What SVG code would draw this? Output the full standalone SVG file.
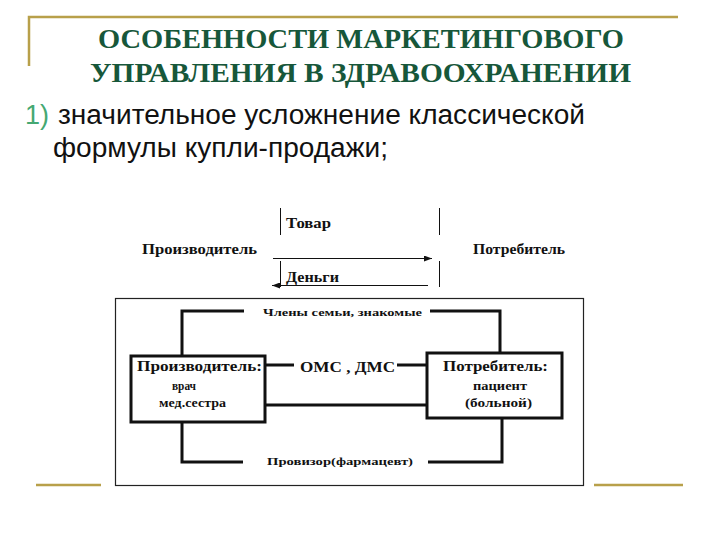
<svg xmlns="http://www.w3.org/2000/svg" width="720" height="540" viewBox="0 0 720 540">
<style>
.gold{stroke:#b8a04a;stroke-width:2.5;fill:none}
.title{font-family:"Liberation Serif",serif;font-weight:bold;font-size:27px;fill:#17573a;text-anchor:middle}
.body{font-family:"Liberation Sans",Arial,sans-serif;font-size:27px;fill:#111}
.lbl{font-family:"Liberation Serif",serif;font-weight:bold;fill:#111}
.thin{stroke:#111;stroke-width:1;fill:none}
.thick{stroke:#111;stroke-width:3;fill:none}
.box{stroke:#111;stroke-width:3;fill:#fff}
</style>
<defs>
<marker id="ah" markerWidth="8" markerHeight="6" refX="8" refY="3" orient="auto" markerUnits="userSpaceOnUse">
<path d="M0,0 L8,3 L0,6 Z" fill="#111"/>
</marker>
</defs>
<rect width="720" height="540" fill="#fff"/>
<g id="frame-deco">
<polyline class="gold" points="29,66 29,17 678,17"/>
<line class="gold" x1="36" y1="485" x2="101" y2="485"/>
<line class="gold" x1="594" y1="485" x2="683" y2="485"/>
</g>
<g id="title">
<text class="title" x="361" y="48" textLength="526" lengthAdjust="spacingAndGlyphs">ОСОБЕННОСТИ МАРКЕТИНГОВОГО</text>
<text class="title" x="360.5" y="82" textLength="541" lengthAdjust="spacingAndGlyphs">УПРАВЛЕНИЯ В ЗДРАВООХРАНЕНИИ</text>
</g>
<g id="bullet">
<text class="body" x="25" y="124" style="fill:#45a872">1)</text>
<text class="body" x="58" y="124" textLength="527" lengthAdjust="spacingAndGlyphs">значительное усложнение классической</text>
<text class="body" x="53" y="157" textLength="335" lengthAdjust="spacingAndGlyphs">формулы купли-продажи;</text>
</g>
<g id="simple-scheme">
<g id="producer1"><text class="lbl" x="142" y="254" font-size="15" textLength="115" lengthAdjust="spacingAndGlyphs">Производитель</text></g>
<g id="consumer1"><text class="lbl" x="473" y="254" font-size="15" textLength="92" lengthAdjust="spacingAndGlyphs">Потребитель</text></g>
<g id="goods"><text class="lbl" x="286" y="228" font-size="15" textLength="45" lengthAdjust="spacingAndGlyphs">Товар</text></g>
<g id="money"><text class="lbl" x="286" y="282" font-size="15" textLength="53" lengthAdjust="spacingAndGlyphs">Деньги</text></g>
</g>
<g id="connectors">
<line class="thin" x1="280.5" y1="208" x2="280.5" y2="235"/>
<line class="thin" x1="439.5" y1="208" x2="439.5" y2="235"/>
<line class="thin" x1="280.5" y1="261" x2="280.5" y2="287"/>
<line class="thin" x1="439.5" y1="261" x2="439.5" y2="287"/>
<line class="thin" x1="273" y1="258.5" x2="432" y2="258.5" marker-end="url(#ah)"/>
<line class="thin" x1="428" y1="285.5" x2="272" y2="285.5" marker-end="url(#ah)"/>
<polyline class="thick" points="182,356 182,311 244,311"/>
<polyline class="thick" points="430,311 500,311 500,353"/>
<line class="thick" x1="265" y1="365" x2="294" y2="365"/>
<line class="thick" x1="397" y1="365" x2="427" y2="365"/>
<line class="thick" x1="265" y1="405" x2="427" y2="405"/>
<polyline class="thick" points="182,422 182,462 243,462"/>
<polyline class="thick" points="428,462 502,462 502,418"/>
</g>
<g id="outer-frame">
<rect x="115.5" y="298.5" width="468" height="187" fill="none" stroke="#222" stroke-width="1.2"/>
</g>
<g id="producer2">
<rect class="box" x="131" y="356" width="134" height="66"/>
<text class="lbl" x="137" y="371" font-size="15" textLength="125" lengthAdjust="spacingAndGlyphs">Производитель:</text>
<text class="lbl" x="172" y="390" font-size="12" textLength="24" lengthAdjust="spacingAndGlyphs">врач</text>
<text class="lbl" x="159" y="407" font-size="12" textLength="67" lengthAdjust="spacingAndGlyphs">мед.сестра</text>
</g>
<g id="consumer2">
<rect class="box" x="427" y="353" width="135" height="65"/>
<text class="lbl" x="443" y="371" font-size="15" textLength="105" lengthAdjust="spacingAndGlyphs">Потребитель:</text>
<text class="lbl" x="473" y="390" font-size="12" textLength="54" lengthAdjust="spacingAndGlyphs">пациент</text>
<text class="lbl" x="465" y="407" font-size="12" textLength="67" lengthAdjust="spacingAndGlyphs">(больной)</text>
</g>
<g id="family"><text class="lbl" x="263" y="316" font-size="11" textLength="159" lengthAdjust="spacingAndGlyphs">Члены семьи, знакомые</text></g>
<g id="insurance"><text class="lbl" x="300" y="372" font-size="14" textLength="95" lengthAdjust="spacingAndGlyphs">ОМС , ДМС</text></g>
<g id="pharmacist"><text class="lbl" x="267" y="465" font-size="11" textLength="146" lengthAdjust="spacingAndGlyphs">Провизор(фармацевт)</text></g>
</svg>
